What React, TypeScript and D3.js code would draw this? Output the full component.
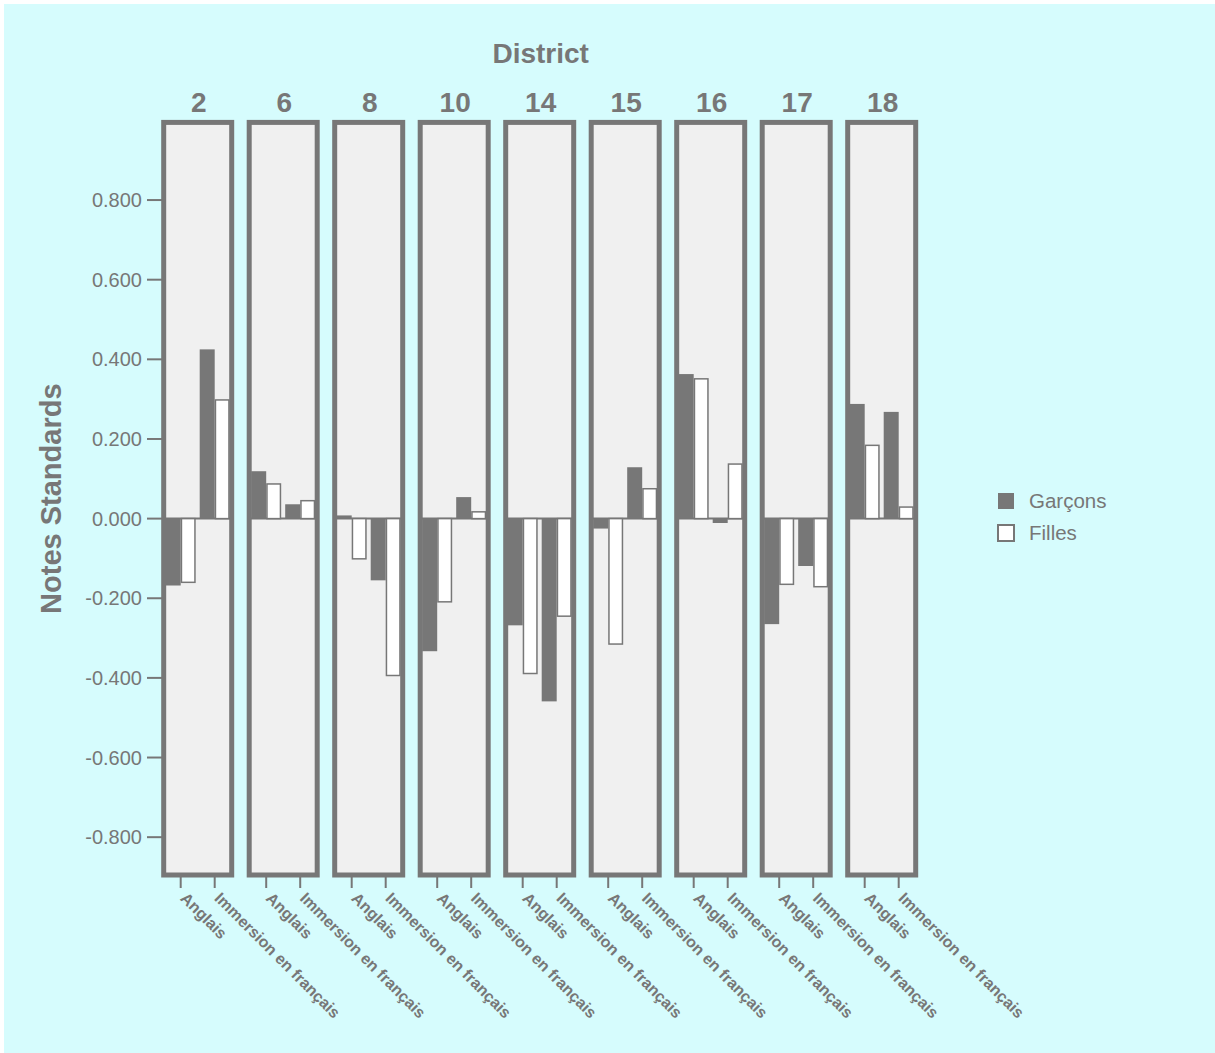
import React from 'react';
import * as d3 from 'd3';

const districts = ['2', '6', '8', '10', '14', '15', '16', '17', '18'];
const programs = ['Anglais', 'Immersion en français'];
const garconsAnglais = [-0.168, 0.119, 0.008, -0.333, -0.268, -0.025, 0.363, -0.265, 0.288];
const fillesAnglais = [-0.16, 0.087, -0.101, -0.209, -0.389, -0.315, 0.351, -0.165, 0.184];
const garconsImmersion = [0.425, 0.036, -0.155, 0.054, -0.459, 0.129, -0.011, -0.119, 0.268];
const fillesImmersion = [0.298, 0.045, -0.394, 0.017, -0.245, 0.075, 0.137, -0.171, 0.029];
const yTicks = [-0.8, -0.6, -0.4, -0.2, 0, 0.2, 0.4, 0.6, 0.8];
const legendLabels = ['Garçons', 'Filles'];

const GRAY = '#777777';
const FONT = '"Liberation Sans", Arial, sans-serif';

export default function App() {
  const W = 1215;
  const H = 1053;
  const y = d3.scaleLinear().domain([-0.895, 0.995]).range([875, 122.4]);
  const px = d3.scaleBand().domain(districts).range([163.7, 915.7]).paddingInner(0.2047).paddingOuter(0);
  const pw = px.bandwidth();
  const ix = d3.scalePoint().domain(programs).range([0, pw]).padding(0.5);
  const barW = 15;
  const fmt = (v: number) => d3.format('.3f')(v).replace('\u2212', '-');

  const rows = districts.map((d, i) => ({
    d,
    vals: [
      { p: programs[0], g: garconsAnglais[i], f: fillesAnglais[i] },
      { p: programs[1], g: garconsImmersion[i], f: fillesImmersion[i] },
    ],
  }));

  return (
    <svg width={W} height={H} style={{ position: 'absolute', left: 0, top: 0 }} fontFamily={FONT}>
      <rect x={0} y={0} width={W} height={H} fill="#ffffff" />
      <rect x={4} y={4} width={W - 4} height={H - 4} fill="#d6fcfd" />
      <text x={(163.7 + 915.7) / 2 + 1} y={63} textAnchor="middle" fontSize={28} fontWeight="bold" fill={GRAY}>District</text>
      <text transform={`translate(61,${y(0.05)}) rotate(-90)`} textAnchor="middle" fontSize={29} fontWeight="bold" fill={GRAY}>Notes Standards</text>
      {yTicks.map((t) => (
        <g key={t}>
          <line x1={147} x2={162} y1={y(t)} y2={y(t)} stroke={GRAY} strokeWidth={2} />
          <text x={142} y={y(t)} dy="0.35em" textAnchor="end" fontSize={20} fill={GRAY}>{fmt(t)}</text>
        </g>
      ))}
      {rows.map((r) => {
        const x0 = px(r.d)!;
        return (
          <g key={r.d}>
            <text x={x0 + pw / 2 + 1} y={112} textAnchor="middle" fontSize={28} fontWeight="bold" fill={GRAY}>{r.d}</text>
            <rect x={x0} y={y(0.995)} width={pw} height={y(-0.895) - y(0.995)} fill="#f0f0f0" />
            <line x1={x0} x2={x0 + pw} y1={y(0)} y2={y(0)} stroke={GRAY} strokeWidth={2} />
            {r.vals.map((v) => {
              const cx = x0 + ix(v.p)!;
              return (
                <g key={v.p}>
                  <rect x={cx - barW} width={barW} y={Math.min(y(0), y(v.g))} height={Math.abs(y(v.g) - y(0))} fill={GRAY} />
                  <rect x={cx + 0.75} width={barW - 1.5} y={Math.min(y(0), y(v.f))} height={Math.abs(y(v.f) - y(0))} fill="#ffffff" stroke={GRAY} strokeWidth={1.5} />
                </g>
              );
            })}
            <rect x={x0} y={y(0.995)} width={pw} height={y(-0.895) - y(0.995)} fill="none" stroke={GRAY} strokeWidth={5} />
            {programs.map((p) => {
              const cx = x0 + ix(p)!;
              return (
                <g key={p}>
                  <line x1={cx} x2={cx} y1={877} y2={888} stroke={GRAY} strokeWidth={2} />
                  <text transform={`translate(${cx + 7},891) rotate(45)`} dy="0.72em" fontSize={16} fontWeight="bold" fill={GRAY}>{p}</text>
                </g>
              );
            })}
          </g>
        );
      })}
      {legendLabels.map((l, i) => (
        <g key={l} transform={`translate(998,${493 + i * 32})`}>
          <rect x={0} y={0} width={16} height={16} fill={i === 0 ? GRAY : '#ffffff'} stroke={GRAY} strokeWidth={i === 0 ? 0 : 2} />
          <text x={31} y={8} dy="0.35em" fontSize={20.5} fill={GRAY}>{l}</text>
        </g>
      ))}
    </svg>
  );
}
